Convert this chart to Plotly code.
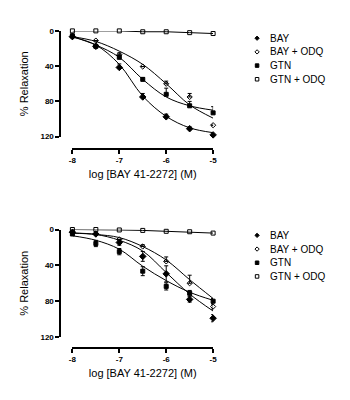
import plotly.graph_objects as go

# ---------------- data ----------------
log_conc = [-8, -7.5, -7, -6.5, -6, -5.5, -5]
names = ["BAY", "BAY + ODQ", "GTN", "GTN + ODQ"]
x_ticks = [-8, -7, -6, -5]
y_ticks = [0, 40, 80, 120]

# Top panel: mean % relaxation
top_bay = [6.5, 17.5, 41.5, 75, 97.5, 111, 118]
top_bay_odq = [7, 11, 27, 40.5, 60, 75, 107]
top_gtn = [5.5, 17.5, 30, 55, 72, 85, 93]
top_gtn_odq = [0, 0, 0, 1, 1, 2, 3]
# error bars (up = toward 0 on the reversed axis, dn = away from 0)
top_bay_eup = [0, 1, 4, 4, 3, 2, 2]
top_bay_edn = [0, 0, 0, 0, 0, 0, 0]
top_bay_odq_eup = [0, 0, 2, 0, 3, 4, 0]
top_bay_odq_edn = [0, 0, 0, 0, 0, 0, 0]
top_gtn_eup = [0, 0, 2, 2, 7, 5, 7]
top_gtn_edn = [0, 0, 0, 0, 0, 0, 0]
# fitted curves at the same concentrations
top_bay_fit = [7, 16, 38, 74, 97, 110, 115.5]
top_bay_odq_fit = [6.5, 12, 23, 38, 60, 84, 99]
top_gtn_fit = [6.5, 16, 30, 55, 75, 85, 90]

# Bottom panel
bot_bay = [3, 5, 14.5, 30, 49.5, 78, 99]
bot_bay_odq = [3, 5, 11, 19, 35.6, 60, 86]
bot_gtn = [5, 15.6, 24.7, 46.5, 63.5, 71, 80]
bot_gtn_odq = [0, 0, 0.5, 1, 2, 2.5, 4]
bot_bay_eup = [0, 0, 3, 5.5, 9, 3, 4]
bot_bay_edn = [0, 0, 3, 5.5, 9, 3, 4]
bot_bay_odq_eup = [0, 0, 0, 2, 5, 9, 3]
bot_bay_odq_edn = [0, 0, 0, 0, 0, 0, 3]
bot_gtn_eup = [0, 3.5, 3.5, 5, 4, 3, 3]
bot_gtn_edn = [0, 3.5, 3.5, 5, 4, 3, 3]
bot_bay_fit = [4, 5.5, 12, 24, 48, 72, 91]
bot_bay_odq_fit = [4, 5.5, 9, 19, 34, 56, 77]
bot_gtn_fit = [7, 12, 22, 41, 57, 70, 79]

x_title = "log [BAY 41-2272] (M)"
y_title = "% Relaxation"

# ---------------- figure ----------------
FONT = "Liberation Sans, Arial, sans-serif"
W, H = 350, 400
fig = go.Figure()

symbols = ["diamond", "diamond-open", "square", "square-open"]
sizes = [5, 4, 4, 4]


def add_panel(xa, ya, means, eups, edns, fits):
    for fit in fits:
        fig.add_trace(go.Scatter(x=log_conc, y=fit, mode="lines",
                                 line=dict(color="black", width=1, shape="spline"),
                                 xaxis=xa, yaxis=ya, showlegend=False,
                                 hoverinfo="skip"))
    fig.add_trace(go.Scatter(x=log_conc, y=means[3], mode="lines",
                             line=dict(color="black", width=1),
                             xaxis=xa, yaxis=ya, showlegend=False))
    for i in range(4):
        err = None
        if eups[i] is not None:
            err = dict(type="data", symmetric=False, array=edns[i],
                       arrayminus=eups[i], color="black", thickness=1, width=2)
        fig.add_trace(go.Scatter(
            x=log_conc, y=means[i], mode="markers", name=names[i],
            marker=dict(symbol=symbols[i], size=sizes[i], color="black",
                        line=dict(color="black", width=1)),
            error_y=err, xaxis=xa, yaxis=ya, showlegend=False, cliponaxis=False))


add_panel("x", "y",
          [top_bay, top_bay_odq, top_gtn, top_gtn_odq],
          [top_bay_eup, top_bay_odq_eup, top_gtn_eup, None],
          [top_bay_edn, top_bay_odq_edn, top_gtn_edn, None],
          [top_bay_fit, top_bay_odq_fit, top_gtn_fit])
add_panel("x2", "y2",
          [bot_bay, bot_bay_odq, bot_gtn, bot_gtn_odq],
          [bot_bay_eup, bot_bay_odq_eup, bot_gtn_eup, None],
          [bot_bay_edn, bot_bay_odq_edn, bot_gtn_edn, None],
          [bot_bay_fit, bot_bay_odq_fit, bot_gtn_fit])


# legends: keys as small shapes, labels as text (keeps the 14 px row pitch)
def px(x):
    return x / W


def py(y):
    return 1 - y / H


annotations = []
shapes = []
KX = 259
for top_px in (35, 236.7):
    for i, nm in enumerate(names):
        yc = top_px + 14 * i
        filled = i in (0, 2)
        fill = "black" if filled else "white"
        if i < 2:
            r = 2.2
            path = "M %f %f L %f %f L %f %f L %f %f Z" % (
                px(KX), py(yc - r), px(KX + r), py(yc), px(KX), py(yc + r),
                px(KX - r), py(yc))
            shapes.append(dict(type="path", xref="paper", yref="paper", path=path,
                               fillcolor=fill, line=dict(color="black", width=1)))
        else:
            r = 1.8
            shapes.append(dict(type="rect", xref="paper", yref="paper",
                               x0=px(KX - r), x1=px(KX + r), y0=py(yc + r), y1=py(yc - r),
                               fillcolor=fill, line=dict(color="black", width=1)))
        annotations.append(dict(x=px(270), y=py(yc), xref="paper", yref="paper",
                                text=nm, showarrow=False,
                                xanchor="left", yanchor="middle",
                                font=dict(family=FONT, size=10, color="black")))

xdom = [70 / W, 214 / W]
ypos = 57.5 / W
top_dom = [1 - 135.7 / H, 1 - 27.5 / H]
bot_dom = [1 - 340.7 / H, 1 - 230.7 / H]

tickfont = dict(family=FONT, size=8, color="black")
titlefont = dict(family=FONT, size=11, color="black")

xcommon = dict(range=[-8, -5], tickvals=x_ticks,
               ticktext=["<b>%d</b>" % v for v in x_ticks],
               showline=True, linecolor="black", linewidth=1.5, ticks="outside",
               ticklen=4, tickwidth=1.5, tickcolor="black", showgrid=False,
               zeroline=False, tickfont=tickfont, anchor="free",
               title=dict(text=x_title, font=titlefont, standoff=5))
ycommon = dict(range=[120, 0], tickvals=y_ticks,
               ticktext=["<b>%d</b>" % v for v in y_ticks],
               showline=True, linecolor="black",
               linewidth=1.5, ticks="outside", ticklen=4, tickwidth=1.5,
               tickcolor="black", showgrid=False, zeroline=False, tickfont=tickfont,
               anchor="free", position=ypos,
               title=dict(text=y_title, font=titlefont, standoff=9))

fig.update_layout(
    width=W, height=H, margin=dict(l=0, r=0, t=0, b=0),
    paper_bgcolor="white", plot_bgcolor="white",
    font=dict(family=FONT, color="black"),
    xaxis=dict(domain=xdom, position=1 - 148.3 / H, **xcommon),
    xaxis2=dict(domain=xdom, position=1 - 351.7 / H, **xcommon),
    yaxis=dict(domain=top_dom, **ycommon),
    yaxis2=dict(domain=bot_dom, **ycommon),
    annotations=annotations,
    shapes=shapes,
    showlegend=False,
)

fig.write_html("out.html")
